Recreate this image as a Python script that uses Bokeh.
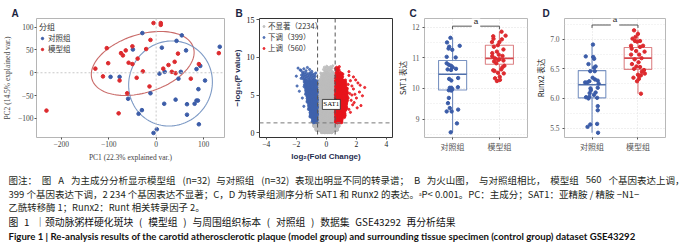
import math
import numpy as np
from bokeh.plotting import figure
from bokeh.layouts import row, column
from bokeh.models import Range1d, Span, Label, FixedTicker, Legend, LegendItem, AllLabels, LinearAxis
from bokeh.embed import file_html
from bokeh.resources import INLINE
from bokeh.core.properties import value

# ---------------- data ----------------
# Panel A: PCA scores
pca_ctrl_x = [-29, 54, 12, 43, -49, 63, -96, -77, 7, 18, 52, 85, 93, 134, 47, -12, -59, 17, 41, 65, 81, 85, 88, 89, 103, 65, -30, -37, 90, -5.5, 1.4]
pca_ctrl_y = [87, 82, 55, 70, 51, 49, -9, -9, -2, 2, 2, 8, 15, 57, -13, -45, -57, -68, -59, -69, -68, -61, -61, -36, -17, -92, -82, -90, -113, -132, -124]
pca_model_x = [-231, -5.5, 9.7, 9.7, -104, -50, -12, -21, -74, -70, -64, -39, -58, -50, -101, -128, -112, -28, -77, -14, -61, -79, 46, 39, 26, 15, 33, 41, 73, 90, 132, -41]
pca_model_y = [-83, 109, 109, 105, 54, 58, 72, 52, 43, 38, 49, 31, 22, 19, 21, 9, -8, 3, -17, -30, -45, -89, 42, 24, 17, 9, 2, -1, -13, 19, 43, -11]
group_labels = ["对照组", "模型组"]

# Panel B: volcano, point clouds read as bands (y_low, y_high, x_low, x_high, count)
ns_bands = [(0.0, 0.3, -0.35, 0.4, 124), (0.3, 0.8, -0.7, 0.75, 330), (0.8, 1.3, -0.85, 0.85, 340),
            (1.3, 2.0, -0.585, 0.585, 300), (2.0, 3.0, -0.585, 0.585, 330), (3.0, 4.0, -0.585, 0.585, 270),
            (4.0, 5.0, -0.585, 0.585, 220), (5.0, 6.0, -0.55, 0.585, 160), (6.0, 7.0, -0.5, 0.585, 100),
            (7.0, 8.0, -0.4, 0.55, 45), (8.0, 8.9, -0.2, 0.45, 15)]
down_bands = [(1.3, 2.0, -0.95, -0.59, 25), (2.0, 3.0, -1.1, -0.59, 60), (3.0, 4.0, -1.2, -0.59, 70),
              (4.0, 5.0, -1.3, -0.59, 75), (5.0, 6.0, -1.4, -0.59, 70), (6.0, 7.0, -1.5, -0.6, 55),
              (7.0, 8.0, -1.7, -0.7, 30), (8.0, 8.7, -1.9, -0.9, 8)]
down_extra_x = [-2.0, -1.95, -1.8, -1.7, -1.6, -1.5]
down_extra_y = [7.5, 6.2, 5.5, 8.3, 4.6, 3.5]
up_bands = [(1.3, 2.0, 0.59, 1.05, 40), (2.0, 3.0, 0.59, 1.25, 85), (3.0, 4.0, 0.59, 1.35, 100),
            (4.0, 5.0, 0.59, 1.4, 100), (5.0, 6.0, 0.59, 1.4, 95), (6.0, 7.0, 0.6, 1.3, 70),
            (7.0, 8.0, 0.6, 1.1, 35), (8.0, 8.8, 0.6, 0.9, 10)]
up_extra_x = [1.5, 1.6, 1.7, 1.8, 1.9, 2.0, 2.1, 2.2, 2.4, 2.55, 1.55, 1.65, 1.75, 1.5, 1.85, 1.45, 1.95, 2.3, 1.6, 1.5, 2.05, 1.7, 1.45, 2.25, 1.8]
up_extra_y = [7.6, 6.9, 6.2, 5.8, 5.1, 4.6, 6.6, 5.4, 4.9, 6.0, 5.2, 4.3, 3.7, 3.1, 4.0, 6.4, 7.0, 3.6, 2.7, 8.1, 3.3, 5.0, 4.6, 6.3, 7.4]
volcano_labels = ["不显著（2234）", "下调（399）", "上调（560）"]
volcano_yticks = [0, 5, 10, 15]
volcano_xticks = [-4, -2, 0, 2, 4]
sat1_fc = [0.6]
sat1_p = [4.3]
fc_cut = 0.585
p_cut = 1.3

# Panel C: SAT1 expression
sat1_ctrl = [11.65, 11.50, 11.36, 11.30, 11.39, 11.26, 11.03, 11.01, 10.82, 10.77, 10.74, 10.69, 10.62, 10.60, 10.64, 10.31,
             10.26, 10.34, 10.02, 10.02, 9.98, 10.04, 9.94, 9.93, 9.69, 9.52, 9.36, 9.25, 9.25, 9.31, 8.86, 8.57]
sat1_ctrl_jit = [-0.046, -0.119, -0.073, -0.086, 0.152, -0.007, -0.126, 0.066, -0.126, -0.080, -0.033, 0.0, -0.106, -0.033, 0.073, -0.073,
                 -0.027, 0.119, -0.060, -0.027, -0.007, 0.113, -0.080, -0.027, -0.080, -0.099, -0.060, -0.126, -0.020, 0.119, 0.093, -0.040]
sat1_model = [11.85, 11.70, 11.72, 11.60, 11.62, 11.51, 11.51, 11.41, 11.27, 11.20, 11.15, 11.06, 10.98, 11.05, 10.95, 10.93,
              10.88, 10.91, 10.82, 10.74, 10.59, 10.57, 10.51, 10.49, 10.38, 10.33, 10.24, 10.28, 10.69, 11.10, 11.36, 10.62]
sat1_model_jit = [0.046, -0.132, 0.132, 0.053, -0.126, -0.159, 0.0, -0.033, 0.086, -0.053, -0.152, 0.066, -0.093, -0.152, 0.0, -0.026,
                  -0.113, 0.086, -0.066, 0.106, -0.132, -0.106, -0.033, 0.093, 0.007, -0.093, -0.053, 0.013, 0.066, -0.013, -0.119, 0.040]
# box summaries: lower whisker, q1, median, q3, upper whisker
sat1_box_ctrl = [8.57, 9.95, 10.46, 10.91, 11.65]
sat1_box_model = [10.20, 10.79, 10.98, 11.41, 11.85]
sat1_ticks = [9, 10, 11, 12]

# Panel D: Runx2 expression
runx2_ctrl = [6.91, 6.71, 6.70, 6.67, 6.58, 6.54, 6.52, 6.46, 6.46, 6.35, 6.32, 6.29, 6.30, 6.27, 6.27, 6.25,
              6.18, 6.14, 6.10, 6.09, 6.06, 6.02, 6.00, 6.03, 6.01, 5.87, 5.80, 5.56, 5.52, 5.57, 5.42, 6.17]
runx2_ctrl_jit = [0.020, -0.137, 0.026, 0.046, -0.078, 0.078, 0.046, -0.039, 0.059, 0.013, 0.065, -0.059, 0.124, -0.150, -0.105, 0.144,
                  0.124, -0.026, 0.078, -0.052, 0.039, -0.131, -0.078, -0.059, 0.111, 0.124, 0.124, -0.039, -0.098, 0.111, 0.131, -0.033]
runx2_model = [7.15, 7.09, 7.01, 6.97, 6.96, 6.97, 6.89, 6.87, 6.84, 6.80, 6.79, 6.74, 6.74, 6.68, 6.66, 6.61,
               6.58, 6.54, 6.53, 6.48, 6.50, 6.45, 6.42, 6.40, 6.39, 6.35, 6.38, 6.29, 6.33, 6.08, 6.89, 7.04]
runx2_model_jit = [-0.085, 0.0, -0.118, -0.065, -0.020, 0.046, 0.111, 0.046, -0.137, -0.039, 0.144, 0.026, -0.150, 0.078, -0.072, 0.013,
                   -0.131, -0.033, 0.046, 0.131, -0.085, 0.085, 0.150, 0.0, 0.065, -0.098, 0.033, -0.020, 0.020, 0.065, -0.150, -0.052]
runx2_box_ctrl = [5.42, 6.01, 6.23, 6.47, 6.91]
runx2_box_model = [6.08, 6.49, 6.68, 6.86, 7.15]
runx2_ticks = [5.5, 6, 6.5, 7]
runx2_tick_labels = ["5.5", "6.0", "6.5", "7.0"]

caption_lines = [
    "图注：图 A 为主成分分析显示模型组 (n=32) 与对照组 (n=32) 表现出明显不同的转录谱；B 为火山图，与对照组相比，模型组 560 个基因表达上调，",
    "399 个基因表达下调，2 234 个基因表达不显著；C，D 为转录组测序分析 SAT1 和 Runx2 的表达。ᵃP< 0.001。PC：主成分；SAT1：亚精胺 / 精胺 −N1−",
    "乙酰转移酶 1；Runx2：Runt 相关转录因子 2。",
    "图 1 ｜颈动脉粥样硬化斑块 ( 模型组 ) 与周围组织标本 ( 对照组 ) 数据集 GSE43292 再分析结果",
]
caption_en = "Figure 1  |  Re-analysis results of the carotid atherosclerotic plaque (model group) and surrounding tissue specimen (control group) dataset GSE43292"

# ---------------- styles ----------------
SERIF = "Liberation Serif"
CJK = "Noto Sans CJK SC"
BLUE = "#3b5ca8"
RED = "#dd2a2e"
GRAY_PT = "#bdbdbd"


def base_fig(w, h, xr, yr, ml, mr, mt, mb, **kw):
    p = figure(width=w, height=h, x_range=Range1d(*xr), y_range=Range1d(*yr),
               output_backend="svg", toolbar_location=None,
               min_border_left=ml, min_border_right=mr, min_border_top=mt, min_border_bottom=mb, **kw)
    p.background_fill_color = "white"
    p.border_fill_color = "white"
    return p


def style_axis(ax, size="7.5px", color="#4d4d4d"):
    ax.major_label_text_font = SERIF
    ax.major_label_text_font_size = size
    ax.major_label_text_color = color
    ax.axis_line_color = None
    ax.major_tick_line_color = "#555555"
    ax.major_tick_out = 2
    ax.major_tick_in = 0
    ax.minor_tick_line_color = None
    ax.major_label_standoff = 1
    ax.axis_label_standoff = 3
    ax.major_label_policy = AllLabels()


def style_axes(p, size="7.5px", color="#4d4d4d"):
    for ax in p.axis:
        style_axis(ax, size, color)


def letter(p, txt, offset):
    p.title.text = txt
    p.title.align = "left"
    p.title.offset = offset
    p.title.standoff = 0
    p.title.text_font = "Liberation Sans"
    p.title.text_font_size = "10px"
    p.title.text_font_style = "bold"
    p.title.text_color = "#1b2440"


def band_points(bands):
    xs, ys = [], []
    g = 0.6180339887
    for (y0, y1, x0, x1, n) in bands:
        for i in range(n):
            xs.append(x0 + (x1 - x0) * ((i * g + 0.31) % 1.0))
            ys.append(y0 + (y1 - y0) * (i + 0.5) / n)
    return xs, ys


def ellipse_xy(x, y, prob=0.68, n=120):
    x = np.asarray(x, float)
    y = np.asarray(y, float)
    sigma = np.cov(np.vstack([x, y]))
    mu = np.array([x.mean(), y.mean()])
    ed = math.sqrt(-2.0 * math.log(1.0 - prob))
    t = np.linspace(0, 2 * np.pi, n)
    circ = np.vstack([np.cos(t), np.sin(t)]).T
    ch = np.linalg.cholesky(sigma).T
    pts = mu + ed * circ @ ch
    return pts[:, 0], pts[:, 1]


# ---------------- Panel A ----------------
pA = base_fig(229, 164, (-252, 144), (-142, 119), 34, 5, 12, 27)
pA.xgrid.visible = False
pA.ygrid.visible = False
pA.outline_line_color = "#b5b5b5"
pA.xaxis.ticker = FixedTicker(ticks=[-200, -100, 0, 100])
pA.yaxis.ticker = FixedTicker(ticks=[-100, -50, 0, 50, 100])
pA.xaxis.major_label_overrides = {-200: "−200", -100: "−100"}
pA.yaxis.major_label_overrides = {-100: "−100", -50: "−50"}
pA.xaxis.axis_label = "PC1 (22.3% explained var.)"
pA.yaxis.axis_label = "PC2 (14.5% explained var.)"
style_axes(pA, size="7.5px", color="#444444")
for ax in pA.axis:
    ax.axis_label_text_font = SERIF
    ax.axis_label_text_font_size = "7.5px"
    ax.axis_label_text_font_style = "normal"
    ax.axis_label_text_color = "#444444"
pA.add_layout(Span(location=0, dimension="height", line_color="#c8c8c8", line_dash="2 2", line_width=1))
pA.add_layout(Span(location=0, dimension="width", line_color="#c8c8c8", line_dash="2 2", line_width=1))
ex, ey = ellipse_xy(pca_model_x, pca_model_y)
pA.line(ex, ey, line_color="#c0504d", line_width=1.1, line_alpha=0.85)
ex, ey = ellipse_xy(pca_ctrl_x, pca_ctrl_y)
pA.line(ex, ey, line_color="#6f8fbf", line_width=1.1, line_alpha=0.9)
rA1 = pA.scatter(pca_ctrl_x, pca_ctrl_y, size=3.6, color=BLUE)
rA2 = pA.scatter(pca_model_x, pca_model_y, size=3.6, color=RED)
legA = Legend(items=[LegendItem(label=group_labels[0], renderers=[rA1]),
                     LegendItem(label=group_labels[1], renderers=[rA2])],
              location="top_left", title="分组")
legA.label_text_font = CJK
legA.label_text_font_size = "7.5px"
legA.label_text_color = "#333333"
legA.title_text_font = CJK
legA.title_text_font_size = "8px"
legA.title_text_font_style = "normal"
legA.title_text_color = "#333333"
legA.title_standoff = 0
legA.glyph_width = 6
legA.glyph_height = 8
legA.label_height = 8
legA.label_standoff = 3
legA.spacing = 0
legA.padding = 1
legA.margin = 3
legA.background_fill_alpha = 0
legA.border_line_color = None
pA.add_layout(legA)
letter(pA, "A", -25)

# ---------------- Panel B ----------------
pB = base_fig(164, 164, (-4.45, 4.4), (-0.64, 15.16), 29, 1, 8, 27, y_axis_location=None)
pB.xgrid.visible = False
pB.ygrid.visible = False
pB.outline_line_color = "#333333"
yaxB = LinearAxis(ticker=FixedTicker(ticks=volcano_yticks))
pB.add_layout(yaxB, "left")
pB.xaxis.ticker = FixedTicker(ticks=volcano_xticks)
pB.xaxis.major_label_overrides = {-4: "−4", -2: "−2"}
style_axes(pB, size="7.5px", color="#222222")
style_axis(yaxB, size="8px", color="#111111")
yaxB.major_tick_out = 3
yaxB.major_label_standoff = 2
yaxB.major_label_orientation = "horizontal"
pB.xaxis.axis_label = "log₂(Fold Change)"
yaxB.axis_label = "−log₁₀(P value)"
for ax in (pB.xaxis[0], yaxB):
    ax.axis_label_text_font = "Liberation Sans"
    ax.axis_label_text_font_size = "8px"
    ax.axis_label_text_font_style = "bold"
    ax.axis_label_text_color = "#1f2d50"
    ax.axis_label_standoff = 2
gx, gy = band_points(ns_bands)
bx, by = band_points(down_bands)
bx += down_extra_x
by += down_extra_y
ux, uy = band_points(up_bands)
ux += up_extra_x
uy += up_extra_y
rB0 = pB.scatter(gx, gy, size=2.2, color=GRAY_PT, alpha=0.9)
rB1 = pB.scatter(bx, by, size=2.2, color="#3f63ad", alpha=0.85)
rB2 = pB.scatter(ux, uy, size=2.2, color="#e8141c", alpha=0.85)
for loc in (-fc_cut, fc_cut):
    pB.add_layout(Span(location=loc, dimension="height", line_color="#555555", line_dash="4 3", line_width=1))
pB.add_layout(Span(location=p_cut, dimension="width", line_color="#777777", line_dash="4 3", line_width=1))
pB.scatter(sat1_fc, sat1_p, size=2.5, color="black")
pB.add_layout(Label(x=0.33, y=3.75, text="SAT1", text_font=SERIF, text_font_size="7px",
                    text_align="center", text_baseline="middle", text_color="black",
                    background_fill_color="white", border_line_color="#222222", border_line_width=0.8,
                    padding=1))
legB = Legend(items=[LegendItem(label=volcano_labels[0], renderers=[rB0]),
                     LegendItem(label=volcano_labels[1], renderers=[rB1]),
                     LegendItem(label=volcano_labels[2], renderers=[rB2])],
              location="top_left")
legB.label_text_font = CJK
legB.label_text_font_size = "7.5px"
legB.label_text_color = "#333333"
legB.glyph_width = 5
legB.glyph_height = 8
legB.label_height = 8
legB.label_standoff = 2
legB.spacing = 0
legB.padding = 1
legB.margin = 2
legB.background_fill_alpha = 0
legB.border_line_color = None
pB.add_layout(legB)
letter(pB, "B", -24)


# ---------------- Panels C and D ----------------
def box_panel(w, yr, ml, mr, mt, mb, ticks, minor, ctrl, ctrl_j, model, model_j,
              box_c, box_m, ylab, sig_y, tick_text=None):
    p = base_fig(w, 164, (0.4, 2.6), yr, ml, mr, mt, mb)
    p.outline_line_color = "#b8b8b8"
    p.yaxis.ticker = FixedTicker(ticks=ticks, minor_ticks=minor)
    p.xaxis.ticker = FixedTicker(ticks=[1, 2])
    p.xaxis.major_label_overrides = {1: group_labels[0], 2: group_labels[1]}
    if tick_text:
        p.yaxis.major_label_overrides = dict(zip(ticks, tick_text))
    style_axes(p, size="7.5px", color="#555555")
    p.xaxis.major_label_text_font = CJK
    p.xaxis.major_label_text_font_size = "8px"
    p.yaxis.axis_label = ylab
    p.yaxis.axis_label_text_font = CJK
    p.yaxis.axis_label_text_font_size = "7.5px"
    p.yaxis.axis_label_text_font_style = "normal"
    p.yaxis.axis_label_text_color = "#1a1a1a"
    p.yaxis.axis_label_standoff = 1
    for g in (p.xgrid, p.ygrid):
        g.grid_line_color = "#d6d6d6"
        g.grid_line_dash = "1 2"
        g.grid_line_width = 0.8
    p.ygrid.minor_grid_line_color = "#e2e2e2"
    p.ygrid.minor_grid_line_dash = "1 2"
    p.ygrid.minor_grid_line_width = 0.8
    for xc, b, lc, mc in ((1, box_c, "#6d88bb", "#4f6fab"), (2, box_m, "#d9777a", "#d4474c")):
        lo, q1, md, q3, hi = b
        p.segment([xc, xc], [lo, q3], [xc, xc], [q1, hi], line_color=lc, line_width=1.1)
        p.quad(left=[xc - 0.3], right=[xc + 0.3], bottom=[q1], top=[q3], fill_alpha=0,
               line_color=lc, line_width=1.1, line_alpha=0.9)
        p.segment([xc - 0.3], [md], [xc + 0.3], [md], line_color=mc, line_width=1.6)
    p.scatter([1 + j for j in ctrl_j], ctrl, size=3.4, color=BLUE)
    p.scatter([2 + j for j in model_j], model, size=3.4, color=RED)
    s0, s1, s2 = sig_y
    p.line([1, 1, 2, 2], [s0, s1, s1, s0], line_color="#555555", line_width=1)
    p.add_layout(Label(x=1.5, y=s2, text="a", text_font="Liberation Sans", text_font_size="8px",
                       text_align="center", text_baseline="middle", text_color="#222222",
                       background_fill_color="white", padding=2))
    return p


pC = box_panel(139, (8.4, 12.28), 20, 5, 18, 20, sat1_ticks, [8.5, 9.5, 10.5, 11.5],
               sat1_ctrl, sat1_ctrl_jit, sat1_model, sat1_model_jit, sat1_box_ctrl, sat1_box_model,
               "SAT1 表达", (11.93, 12.03, 12.17))
letter(pC, "C", -15)
pD = box_panel(168, (5.34, 7.35), 24, 35, 18, 19, runx2_ticks, [5.75, 6.25, 6.75, 7.25],
               runx2_ctrl, runx2_ctrl_jit, runx2_model, runx2_model_jit, runx2_box_ctrl, runx2_box_model,
               "Runx2 表达", (7.19, 7.24, 7.33), tick_text=runx2_tick_labels)
letter(pD, "D", -22)


# ---------------- Caption (lines justified by widening the gaps) ----------------
def est_w(s, fs):
    w = 0.0
    for ch in s:
        o = ord(ch)
        if o >= 0x2E80 or ch in "｜":
            w += fs
        elif ch == " ":
            w += 0.224 * fs
        elif ch in "()":
            w += 0.34 * fs
        elif ch in ".,:;/|":
            w += 0.28 * fs
        elif ch.isdigit():
            w += 0.555 * fs
        elif ch.isupper():
            w += 0.62 * fs
        else:
            w += 0.52 * fs
    return w


def justify(line, x0, x1, fs):
    chunks = []
    cur = ""
    for ch in line:
        if ch == " ":
            if cur:
                chunks.append([cur, 1])
                cur = ""
            elif chunks:
                chunks[-1][1] += 1
        else:
            cur += ch
            if ch in "：；，。":
                chunks.append([cur, 0])
                cur = ""
    if cur:
        chunks.append([cur, 0])
    sp = 0.224 * fs
    nat = sum(est_w(t, fs) + n * sp for t, n in chunks[:-1]) + est_w(chunks[-1][0], fs)
    extra = max(0.0, (x1 - x0) - nat) / max(len(chunks) - 1, 1)
    xs, ts = [], []
    pos = x0
    for t, n in chunks:
        xs.append(pos)
        ts.append(t)
        pos += est_w(t, fs) + n * sp + extra
    return xs, ts


pCap = figure(width=700, height=87, x_range=Range1d(0, 700), y_range=Range1d(87, 0),
              output_backend="svg", toolbar_location=None, x_axis_location=None, y_axis_location=None,
              min_border=0, min_border_left=0, min_border_right=0, min_border_top=0, min_border_bottom=0)
pCap.xgrid.visible = False
pCap.ygrid.visible = False
pCap.outline_line_color = None
line_y = [15, 29, 42.7, 57.7, 72]
line_end = [684, None, None, 455]
line_fs = [9.5, 9.5, 9.4, 9.8]
for i, ln in enumerate(caption_lines):
    fs = line_fs[i]
    if line_end[i] is None:
        xs, ts = [8], [ln]
    else:
        xs, ts = justify(ln, 8, line_end[i], fs)
    pCap.text(x=xs, y=[line_y[i]] * len(xs), text=ts, text_font=value(CJK),
              text_font_size=f"{fs}px", text_baseline="middle",
              text_color="#111111" if i == 3 else "#231f20")
pCap.text(x=[8], y=[line_y[4]], text=[caption_en], text_font=value("Lato"), text_font_style="bold",
          text_font_size="9.6px", text_baseline="middle", text_color="#111111")

layout = column(row(pA, pB, pC, pD, spacing=0), pCap, spacing=0)
open("out.html", "w").write(file_html(layout, INLINE))
